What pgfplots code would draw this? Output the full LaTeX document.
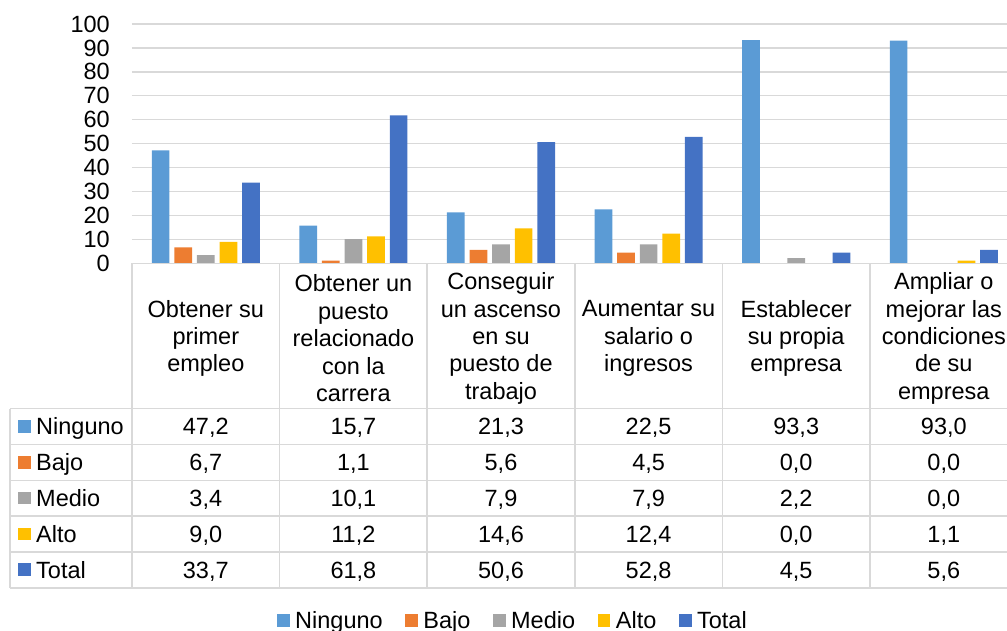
\documentclass[border=0pt]{standalone}
\usepackage{fontspec}
\setmainfont{Liberation Sans}
\usepackage{pgfplots}
\usepackage{pgfplotstable}
\pgfplotsset{compat=1.18}
\definecolor{cN}{HTML}{5B9BD5}
\definecolor{cB}{HTML}{ED7D31}
\definecolor{cM}{HTML}{A5A5A5}
\definecolor{cA}{HTML}{FFC000}
\definecolor{cT}{HTML}{4472C4}
\definecolor{gl}{HTML}{D9D9D9}
\newcommand\cf{\fontsize{23.5}{27.4}\selectfont}
\pgfkeys{/pgf/number format/assume math mode=true}

\pgfplotstableread{
x Ninguno Bajo Medio Alto Total
0 47.2 6.7 3.4 9.0 33.7
1 15.7 1.1 10.1 11.2 61.8
2 21.3 5.6 7.9 14.6 50.6
3 22.5 4.5 7.9 12.4 52.8
4 93.3 0.0 2.2 0.0 4.5
5 93.0 0.0 0.0 1.1 5.6
}\data

\begin{document}
\begin{tikzpicture}[x=1pt,y=1pt]
\path[use as bounding box] (0,0) rectangle (1007,631);
\begin{axis}[
  at={(132pt,367.7pt)}, anchor=south west,
  scale only axis, width=885.6pt, height=239.3pt,
  xmin=-0.5, xmax=5.5, ymin=0, ymax=100,
  ybar=4.9pt, bar width=17.7pt,
  axis line style={draw=none},
  xtick=\empty, ytick={0,10,...,100},
  ymajorgrids, grid style={gl, line width=1.3pt},
  major tick style={draw=none},
  yticklabel style={font=\cf, anchor=east, inner sep=0pt, xshift=-22pt},
  legend columns=-1,
  legend image code/.code={\fill[#1] (0pt,-6.35pt) rectangle (12.7pt,6.35pt);},
  legend style={at={(0.16373,-1.4918)}, anchor=west, draw=none, fill=none,
    inner sep=0pt, outer sep=0pt, font=\cf,
    cells={inner sep=0pt},
    /tikz/every odd column/.append style={column sep=3.5pt},
    /tikz/every even column/.append style={column sep=20.5pt}},
  clip=false,
]
\addplot[fill=cN, draw=none] table[x=x, y=Ninguno] {\data};
\addplot[fill=cB, draw=none] table[x=x, y=Bajo] {\data};
\addplot[fill=cM, draw=none] table[x=x, y=Medio] {\data};
\addplot[fill=cA, draw=none] table[x=x, y=Alto] {\data};
\addplot[fill=cT, draw=none] table[x=x, y=Total] {\data};
\legend{Ninguno,Bajo,Medio,Alto,Total}
\end{axis}
% table lines
\begin{scope}[gl, line width=1.5pt]
\draw (132,367.7) -- (1017.6,367.7);
\foreach \k in {0,...,5} {
  \pgfmathsetmacro\yy{631-(408.7+35.85*\k)}
  \draw (10,\yy) -- (1017.6,\yy);
}
\draw (10,{631-408.7}) -- (10,{631-587.95});
\foreach \k in {0,...,6} {
  \pgfmathsetmacro\xx{132+147.6*\k}
  \draw (\xx,367.7) -- (\xx,{631-587.95});
}
\end{scope}
% category labels
\foreach \t [count=\i from 0] in {{Obtener su\\primer\\empleo},{Obtener un\\puesto\\relacionado\\con la\\carrera},{Conseguir\\un ascenso\\en su\\puesto de\\trabajo},{Aumentar su\\salario o\\ingresos},{Establecer\\su propia\\empresa},{Ampliar o\\mejorar las\\condiciones\\de su\\empresa}} {
  \pgfmathsetmacro\xx{132+147.6*(\i+0.5)}
  \node[align=center, font=\cf, inner sep=0pt, anchor=center] at (\xx,292.6) {\t};
}
% row headers and values
\foreach \c/\col [count=\r from 0] in {Ninguno/cN,Bajo/cB,Medio/cM,Alto/cA,Total/cT} {
  \pgfmathsetmacro\top{631-(408.7+35.85*\r)}
  \fill[\col] (18.3,\top-11.3) rectangle (31,\top-24);
  \node[anchor=base west, inner sep=0pt, font=\cf] at (36,\top-26.2) {\c};
  \foreach \i in {0,...,5} {
    \pgfplotstablegetelem{\i}{\c}\of\data
    \pgfmathsetmacro\xx{132+147.6*(\i+0.5)}
    \node[anchor=base, inner sep=0pt, font=\cf] at (\xx,\top-26.2) {\pgfmathprintnumber[fixed,fixed zerofill,precision=1,use comma]{\pgfplotsretval}};
  }
}
\end{tikzpicture}
\end{document}
